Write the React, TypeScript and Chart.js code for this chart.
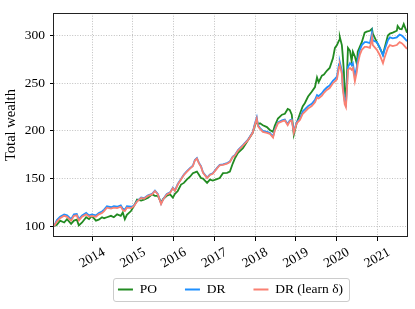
import { useEffect, useRef } from "react";
import { Chart, registerables } from "chart.js";

Chart.register(...registerables);

// Time in fractional years
const dates = [
  2013.06, 2013.13, 2013.21, 2013.31, 2013.38, 2013.48, 2013.55, 2013.62, 2013.67, 2013.75,
  2013.85, 2013.92, 2013.99, 2014.09, 2014.16, 2014.24, 2014.29, 2014.36, 2014.46, 2014.53,
  2014.61, 2014.70, 2014.75, 2014.80, 2014.85, 2014.95, 2015.02, 2015.10, 2015.20, 2015.27,
  2015.37, 2015.47, 2015.54, 2015.61, 2015.69, 2015.74, 2015.83, 2015.91, 2015.98, 2016.03,
  2016.10, 2016.18, 2016.25, 2016.32, 2016.40, 2016.47, 2016.52, 2016.57, 2016.62, 2016.67,
  2016.72, 2016.82, 2016.89, 2016.96, 2017.06, 2017.13, 2017.21, 2017.31, 2017.38, 2017.45,
  2017.50, 2017.58, 2017.70, 2017.82, 2017.94, 2017.99, 2018.04, 2018.07, 2018.12, 2018.19,
  2018.29, 2018.36, 2018.44, 2018.48, 2018.56, 2018.66, 2018.73, 2018.80, 2018.85, 2018.90,
  2018.95, 2019.02, 2019.10, 2019.17, 2019.22, 2019.30, 2019.39, 2019.47, 2019.52, 2019.56,
  2019.64, 2019.69, 2019.76, 2019.83, 2019.91, 2019.96, 2020.01, 2020.06, 2020.08, 2020.13,
  2020.15, 2020.18, 2020.20, 2020.23, 2020.25, 2020.28, 2020.33, 2020.37, 2020.40, 2020.45,
  2020.50, 2020.52, 2020.57, 2020.62, 2020.69, 2020.74, 2020.82, 2020.87, 2020.89, 2020.99,
  2021.06, 2021.14, 2021.18, 2021.26, 2021.31, 2021.38, 2021.48, 2021.50, 2021.55, 2021.60,
  2021.65, 2021.73,
];

const poValues = [
  100, 101.5, 106, 104, 107.5, 102.5, 106, 107, 101, 104,
  109.5, 107.5, 111, 106, 107, 109.5, 108.5, 109.5, 111, 109.5,
  112.5, 111, 114.5, 107.5, 112, 116, 121, 128, 127, 128,
  130, 133.5, 132, 132, 125, 128.5, 132, 133.5, 130, 134,
  137, 143.8, 145.5, 149, 152, 155.7, 156.5, 157.4, 154, 150.6,
  150, 145.5, 149, 148, 149.5, 150.6, 155.7, 156, 157.4, 165.8,
  171, 177, 182, 190, 198, 205, 211, 207, 208, 206,
  204, 201, 199, 205, 213, 217, 218, 223, 222, 217,
  196, 208, 218, 226, 229, 236, 241, 246, 256, 251,
  258, 259, 263, 266, 276, 287, 290, 295, 298.5, 290,
  280, 262, 240, 236, 252, 287, 284, 273, 283, 278,
  270, 283, 288, 293, 303, 304, 305, 307, 302, 293,
  287, 280, 287, 300, 302, 303, 305, 310, 307, 306.5,
  312, 303,
];

const drValues = [
  100, 106.5, 110, 112.5, 111.5, 107.5, 112.5, 113, 107.5, 111.5,
  114, 111.5, 112.5, 111.5, 114, 115.5, 117.5, 121, 120, 121,
  120.5, 122, 118.5, 117.5, 121, 120.5, 121.5, 126.5, 130.3, 129.5,
  132.5, 134, 137.5, 134, 123.9, 128.5, 134, 135.5, 140.5, 137.5,
  144.3, 149.5, 154.3, 157.5, 161, 163.5, 169.5, 171.5, 166.5, 163,
  156.5, 151.1, 154.3, 155.5, 161, 164.5, 165, 166.3, 167.9, 173.1,
  174.5, 180, 185, 190.5, 198.5, 207, 214, 206, 203, 200,
  199, 198, 194, 201, 209, 211, 212, 207, 211, 212,
  199, 209, 212.5, 220.5, 222.5, 226, 228.5, 232.5, 237.5, 236.5,
  239.5, 242.5, 245.5, 247.5, 252.5, 254.5, 257, 270, 272, 263,
  248, 238, 231, 228, 242, 267, 271, 269, 271, 257,
  267.5, 275, 284.6, 290, 293, 293, 292, 303, 295, 293,
  287.6, 279, 285, 295, 298, 297, 298, 299, 301, 300,
  298, 294,
];

const drLearnValues = [
  100, 105, 108.5, 111, 110, 106, 111, 111.5, 106, 110,
  112.5, 110, 111, 110, 112.5, 114, 116, 119.5, 118.5, 119.5,
  119, 120.5, 117, 116, 119.5, 119, 121, 126, 129.8, 129,
  132, 133.5, 137, 133.5, 123.4, 128, 133.5, 135, 140, 137,
  143.8, 149, 153.8, 157, 160.5, 163, 169, 171, 166, 162.5,
  156, 150.6, 153.8, 155, 160.5, 164, 164.5, 165.8, 167.4, 172.6,
  174, 179.5, 184.5, 190, 198, 206, 213, 205, 202, 199,
  198, 197, 193, 200, 208, 210, 211, 206, 210, 211,
  198, 208, 211.5, 218, 220, 223.5, 226, 230, 235, 234,
  237, 240, 243, 245, 250, 252, 254, 267, 269, 260,
  245, 235, 228, 225, 239, 264, 266, 264, 266, 252,
  262.5, 270, 279.6, 285, 288, 288, 287, 298, 290, 285,
  279.6, 271, 277, 287, 290, 289, 290, 291, 293, 292,
  290, 286,
];

const seriesLabels = ["PO", "DR", "DR (learn δ)"];
const seriesColors = ["#228B22", "#1E90FF", "#FA8072"];
const xTickYears = [2014, 2015, 2016, 2017, 2018, 2019, 2020, 2021];
const yTickValues = [100, 150, 200, 250, 300];

const FONT = "'Liberation Serif', 'Times New Roman', serif";

export default function App() {
  const ref = useRef<HTMLCanvasElement | null>(null);

  useEffect(() => {
    document.body.style.margin = "0";
    const canvas = ref.current;
    if (!canvas) return;

    const decor = {
      id: "decor",
      beforeDraw(chart: any) {
        const ctx = chart.ctx;
        ctx.save();
        ctx.fillStyle = "#ffffff";
        ctx.fillRect(0, 0, chart.width, chart.height);
        const hb = chart.legend?.legendHitBoxes;
        if (hb && hb.length) {
          const first = hb[0];
          const last = hb[hb.length - 1];
          const cy = first.top + first.height / 2;
          const l = Math.round(first.left - 4.5) + 0.5;
          const r = Math.round(last.left + last.width + 6) + 0.5;
          const t = Math.round(cy - 11.5) + 0.5;
          const b = Math.round(cy + 11.5) + 0.5;
          const rad = 2.5;
          ctx.beginPath();
          ctx.moveTo(l + rad, t);
          ctx.lineTo(r - rad, t);
          ctx.arcTo(r, t, r, t + rad, rad);
          ctx.lineTo(r, b - rad);
          ctx.arcTo(r, b, r - rad, b, rad);
          ctx.lineTo(l + rad, b);
          ctx.arcTo(l, b, l, b - rad, rad);
          ctx.lineTo(l, t + rad);
          ctx.arcTo(l, t, l + rad, t, rad);
          ctx.closePath();
          ctx.fillStyle = "#ffffff";
          ctx.fill();
          ctx.strokeStyle = "#cccccc";
          ctx.lineWidth = 1;
          ctx.stroke();
        }
        ctx.restore();
      },
      afterDatasetsDraw(chart: any) {
        const ctx = chart.ctx;
        const a = chart.chartArea;
        ctx.save();
        ctx.setLineDash([]);
        ctx.strokeStyle = "#222222";
        ctx.lineWidth = 1;
        ctx.strokeRect(
          Math.round(a.left) - 0.5,
          Math.round(a.top) + 0.5,
          Math.round(a.right) - Math.round(a.left) + 1,
          Math.round(a.bottom) - Math.round(a.top) - 1
        );
        ctx.restore();
      },
      afterDraw(chart: any) {
        const ctx = chart.ctx;
        const xs = chart.scales.x;
        const a = chart.chartArea;
        ctx.save();
        ctx.font = `13.5px ${FONT}`;
        ctx.fillStyle = "#000000";
        ctx.textAlign = "center";
        ctx.textBaseline = "middle";
        for (const yr of xTickYears) {
          const px = xs.getPixelForValue(yr);
          ctx.save();
          ctx.translate(px, a.bottom + 21);
          ctx.rotate(-Math.PI / 6);
          ctx.fillText(String(yr), 0, 0);
          ctx.restore();
        }
        ctx.restore();
      },
    };

    const allSeries = [poValues, drValues, drLearnValues];

    const chart = new Chart(canvas, {
      type: "line",
      data: {
        datasets: allSeries.map((vals, i) => ({
          label: seriesLabels[i],
          data: dates.map((d, j) => ({ x: d, y: vals[j] })),
          borderColor: seriesColors[i],
          backgroundColor: seriesColors[i],
          borderWidth: 1.8,
          pointRadius: 0,
          tension: 0,
          fill: false,
          pointStyle: "line",
          order: allSeries.length - i,
        })),
      },
      options: {
        animation: false,
        responsive: true,
        maintainAspectRatio: false,
        layout: { padding: { left: 0, right: 8, top: 7, bottom: 2.75 } },
        plugins: {
          legend: {
            position: "bottom",
            fullSize: false,
            labels: {
              usePointStyle: true,
              pointStyle: "line",
              pointStyleWidth: 15,
              padding: 28,
              color: "#000000",
              font: { family: FONT, size: 13.5 },
              sort: (a: any, b: any) => a.datasetIndex - b.datasetIndex,
            },
          },
          tooltip: { enabled: false },
        },
        scales: {
          x: {
            type: "linear",
            min: 2013.06,
            max: 2021.73,
            afterBuildTicks: (s: any) => {
              s.ticks = xTickYears.map((v) => ({ value: v }));
            },
            afterFit: (s: any) => {
              s.height = 17.75;
            },
            ticks: { display: false },
            grid: {
              color: "#b0b0b0",
              lineWidth: 0.8,
              tickColor: "#000000",
              tickLength: 4,
              tickWidth: 1,
            },
            border: { display: false, dash: [1, 1.6] },
          },
          y: {
            type: "linear",
            min: 88.8,
            max: 323.5,
            afterBuildTicks: (s: any) => {
              s.ticks = yTickValues.map((v) => ({ value: v }));
            },
            afterFit: (s: any) => {
              s.width = 54;
            },
            ticks: {
              color: "#000000",
              padding: 5,
              font: { family: FONT, size: 13.5 },
            },
            grid: {
              color: "#b0b0b0",
              lineWidth: 0.8,
              tickColor: "#000000",
              tickLength: 4,
              tickWidth: 1,
            },
            border: { display: false, dash: [1, 1.6] },
            title: {
              display: true,
              text: "Total wealth",
              color: "#000000",
              font: { family: FONT, size: 14.5 },
              padding: { top: 2, bottom: 0 },
            },
          },
        },
      },
      plugins: [decor],
    } as any);

    return () => chart.destroy();
  }, []);

  return (
    <div style={{ position: "relative", width: 415, height: 309 }}>
      <canvas ref={ref} />
    </div>
  );
}
